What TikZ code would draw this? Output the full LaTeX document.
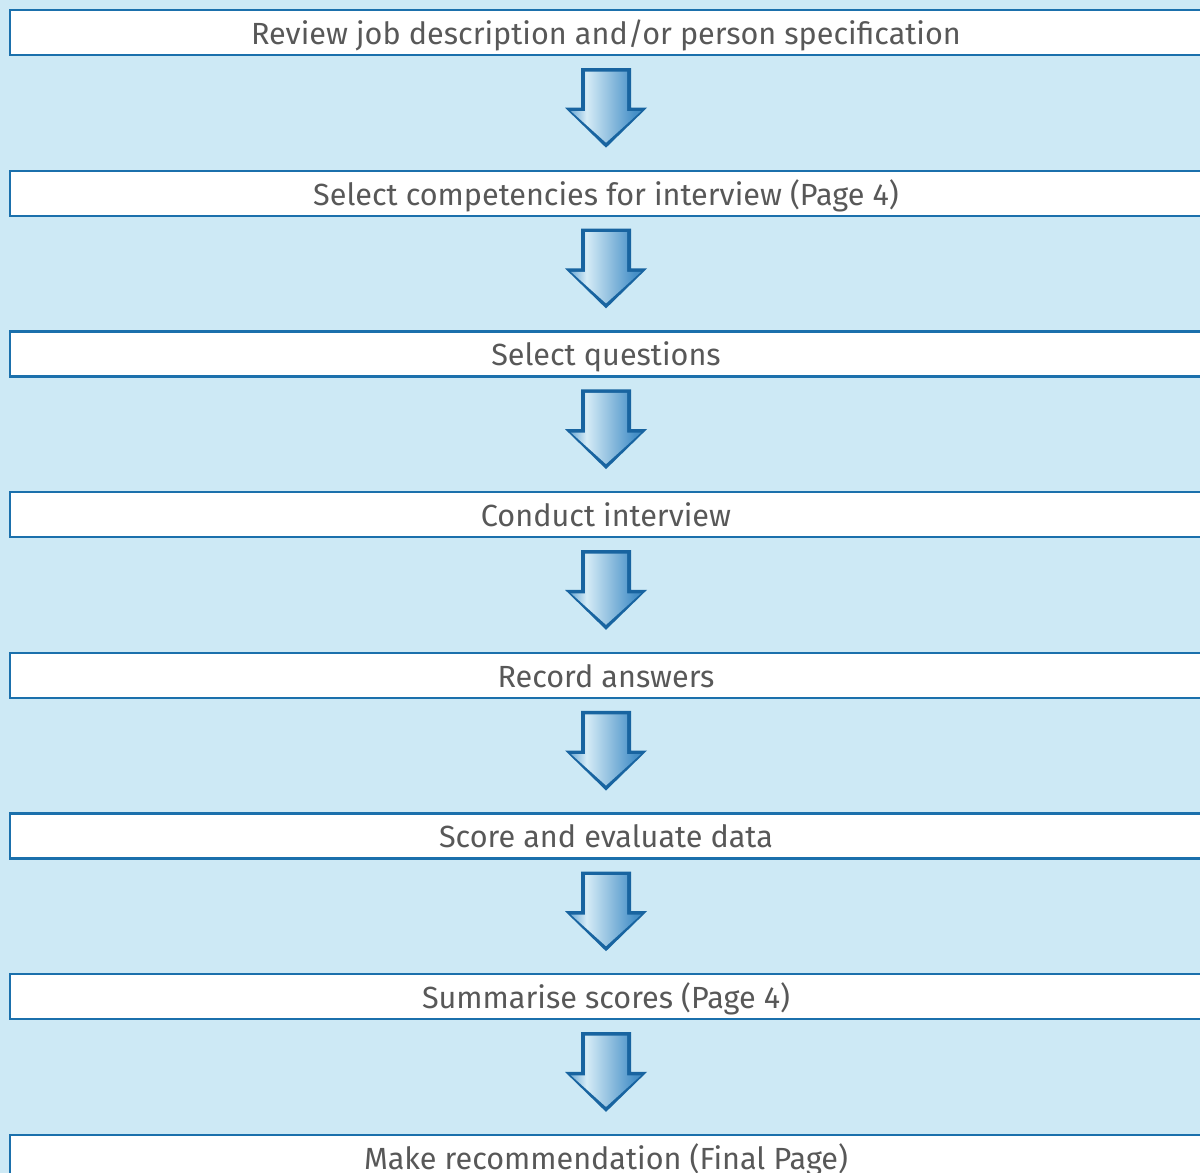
\documentclass[tikz,border=0pt]{standalone}
\usepackage{fontspec}
\setmainfont{Fira Sans}
\usepackage{xcolor}
\usetikzlibrary{calc,positioning}

\definecolor{pagebg}{RGB}{205,233,245}
\definecolor{boxline}{RGB}{27,112,172}
\definecolor{stepgrey}{RGB}{88,88,88}
\definecolor{arrowdark}{RGB}{24,100,160}
\definecolor{arrowmid}{RGB}{72,145,200}
\definecolor{arrowlight}{RGB}{214,236,246}

\pgfdeclarehorizontalshading{arrowfill}{100bp}{color(0bp)=(arrowdark); color(20bp)=(arrowmid); color(36bp)=(arrowlight); color(70bp)=(arrowmid); color(100bp)=(arrowdark)}

% block arrow from one step box down to the next
\newcommand{\flowarrow}[2]{%
  \fill[arrowdark] let \p1=($(#1.south)+(0,13)$), \p2=($(#2.north)+(0,-23)$) in
    (\x1-12.5pt,\y1) -- (\x1+12.5pt,\y1) -- (\x1+12.5pt,\y2+20pt)
      -- (\x1+20.5pt,\y2+20pt) -- (\x1,\y2) -- (\x1-20.5pt,\y2+20pt)
      -- (\x1-12.5pt,\y2+20pt) -- cycle;
  \shade[shading=arrowfill] let \p1=($(#1.south)+(0,13)$), \p2=($(#2.north)+(0,-23)$) in
    (\x1-10.5pt,\y1-1.75pt) -- (\x1+10.5pt,\y1-1.75pt) -- (\x1+10.5pt,\y2+18.25pt)
      -- (\x1+17.5pt,\y2+18.25pt) -- (\x1,\y2+2.5pt) -- (\x1-17.5pt,\y2+18.25pt)
      -- (\x1-10.5pt,\y2+18.25pt) -- cycle;
}

\begin{document}
\begin{tikzpicture}[x=0.5pt,y=-0.5pt,node distance=57.85pt,
  stepbox/.style={draw=boxline, line width=1.2pt, fill=white, minimum width=596pt,
    minimum height=22.5pt, inner sep=0pt, outer sep=0pt, text=stepgrey,
    text height=11.8pt, text depth=0pt, font=\fontsize{15.3}{18}\selectfont}]

  \useasboundingbox (0,0) rectangle (1200,1173);
  \clip (0,0) rectangle (1200,1173);
  \fill[pagebg] (0,0) rectangle (1200,1173);

  \node[stepbox] (review) at (606,32.5) {Review job description and/or person specification};
  \node[stepbox] (select) [below=of review] {Select competencies for interview (Page 4)};
  \node[stepbox] (questions) [below=of select] {Select questions};
  \node[stepbox] (conduct) [below=of questions] {Conduct interview};
  \node[stepbox] (record) [below=of conduct] {Record answers};
  \node[stepbox] (score) [below=of record] {Score and evaluate data};
  \node[stepbox] (summarise) [below=of score] {Summarise scores (Page 4)};
  \node[stepbox] (recommend) [below=of summarise] {Make recommendation (Final Page)};

  \flowarrow{review}{select}
  \flowarrow{select}{questions}
  \flowarrow{questions}{conduct}
  \flowarrow{conduct}{record}
  \flowarrow{record}{score}
  \flowarrow{score}{summarise}
  \flowarrow{summarise}{recommend}
\end{tikzpicture}
\end{document}
